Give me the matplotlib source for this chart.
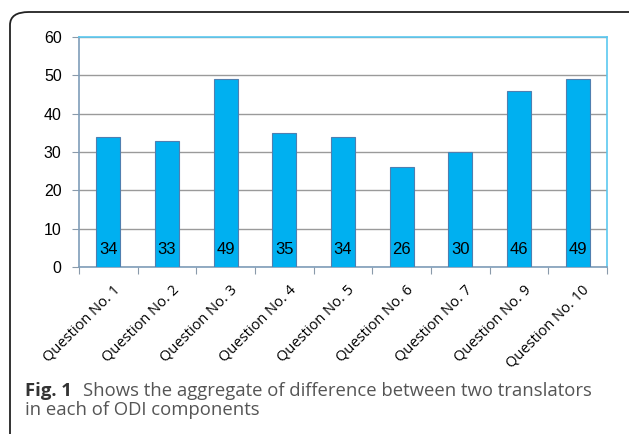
import numpy as np
import matplotlib.pyplot as plt
from matplotlib.patches import FancyBboxPatch

# values
questions = ["Question No. 1", "Question No. 2", "Question No. 3", "Question No. 4",
             "Question No. 5", "Question No. 6", "Question No. 7", "Question No. 9",
             "Question No. 10"]
differences = [34, 33, 49, 35, 34, 26, 30, 46, 49]
y_ticks = [0, 10, 20, 30, 40, 50, 60]

W, H = 629, 434
fig = plt.figure(figsize=(W / 100, H / 100), dpi=100)

# rounded frame around the figure (cropped at right and bottom)
frame = FancyBboxPatch((10 / W, -0.2), (624 - 10) / W + 0.3, (H - 12) / H + 0.2,
                       boxstyle="round,pad=0,rounding_size=0.03",
                       transform=fig.transFigure, facecolor="none",
                       edgecolor="#222222", linewidth=1.3, zorder=-1)
fig.patches.append(frame)

# plot area
left, right, top, bottom = 79, 607, 37, 267
ax = fig.add_axes([left / W, 1 - bottom / H, (right - left) / W, (bottom - top) / H])
ax.patch.set_alpha(0)

x = np.arange(len(questions))
ax.bar(x, differences, width=0.41, color="#00B0F0", edgecolor="#4F7FB0",
       linewidth=0.8, zorder=3)
for xi, v in zip(x, differences):
    ax.text(xi, 4.5, str(v), ha="center", va="center", fontsize=12,
            family="Liberation Sans", color="black", zorder=4)

ax.set_xlim(-0.5, len(questions) - 0.5)
ax.set_ylim(0, 60)
ax.set_yticks(y_ticks)
ax.set_yticklabels([str(t) for t in y_ticks], family="Liberation Sans", fontsize=11.5)
ax.yaxis.grid(True, color="#9A9A9A", linewidth=1, zorder=0)
ax.tick_params(axis="y", length=5, color="#8A9AAA", pad=7.5)

# x ticks at category boundaries, labels rotated under each bar
ax.set_xticks(np.arange(-0.5, len(questions), 1.0))
ax.set_xticklabels([])
ax.tick_params(axis="x", length=5, color="#8A9AAA")
for xi, q in zip(x, questions):
    ax.annotate(q, xy=(xi, 0), xycoords="data", xytext=(3, -11),
                textcoords="offset points", rotation=45, ha="right", va="top",
                rotation_mode="anchor", fontsize=10.5, family="Open Sans",
                color="black")

ax.spines["top"].set_color("#5BC8F0")
ax.spines["right"].set_color("#5BC8F0")
ax.spines["left"].set_color("#7F9DB9")
ax.spines["bottom"].set_color("#7F9DB9")
for s in ax.spines.values():
    s.set_linewidth(1.2)

# caption
fig.text(25 / W, 1 - 391 / H, "Fig. 1", fontsize=13.3, va="center", ha="left",
         family="Open Sans", weight="bold", color="#333333")
fig.text(83 / W, 1 - 391 / H,
         "Shows the aggregate of difference between two translators",
         fontsize=13.3, va="center", ha="left", family="Open Sans", color="#555555")
fig.text(25 / W, 1 - 410 / H, "in each of ODI components", fontsize=13.3,
         va="center", ha="left", family="Open Sans", color="#555555")

fig.savefig("out.png", dpi=100)
